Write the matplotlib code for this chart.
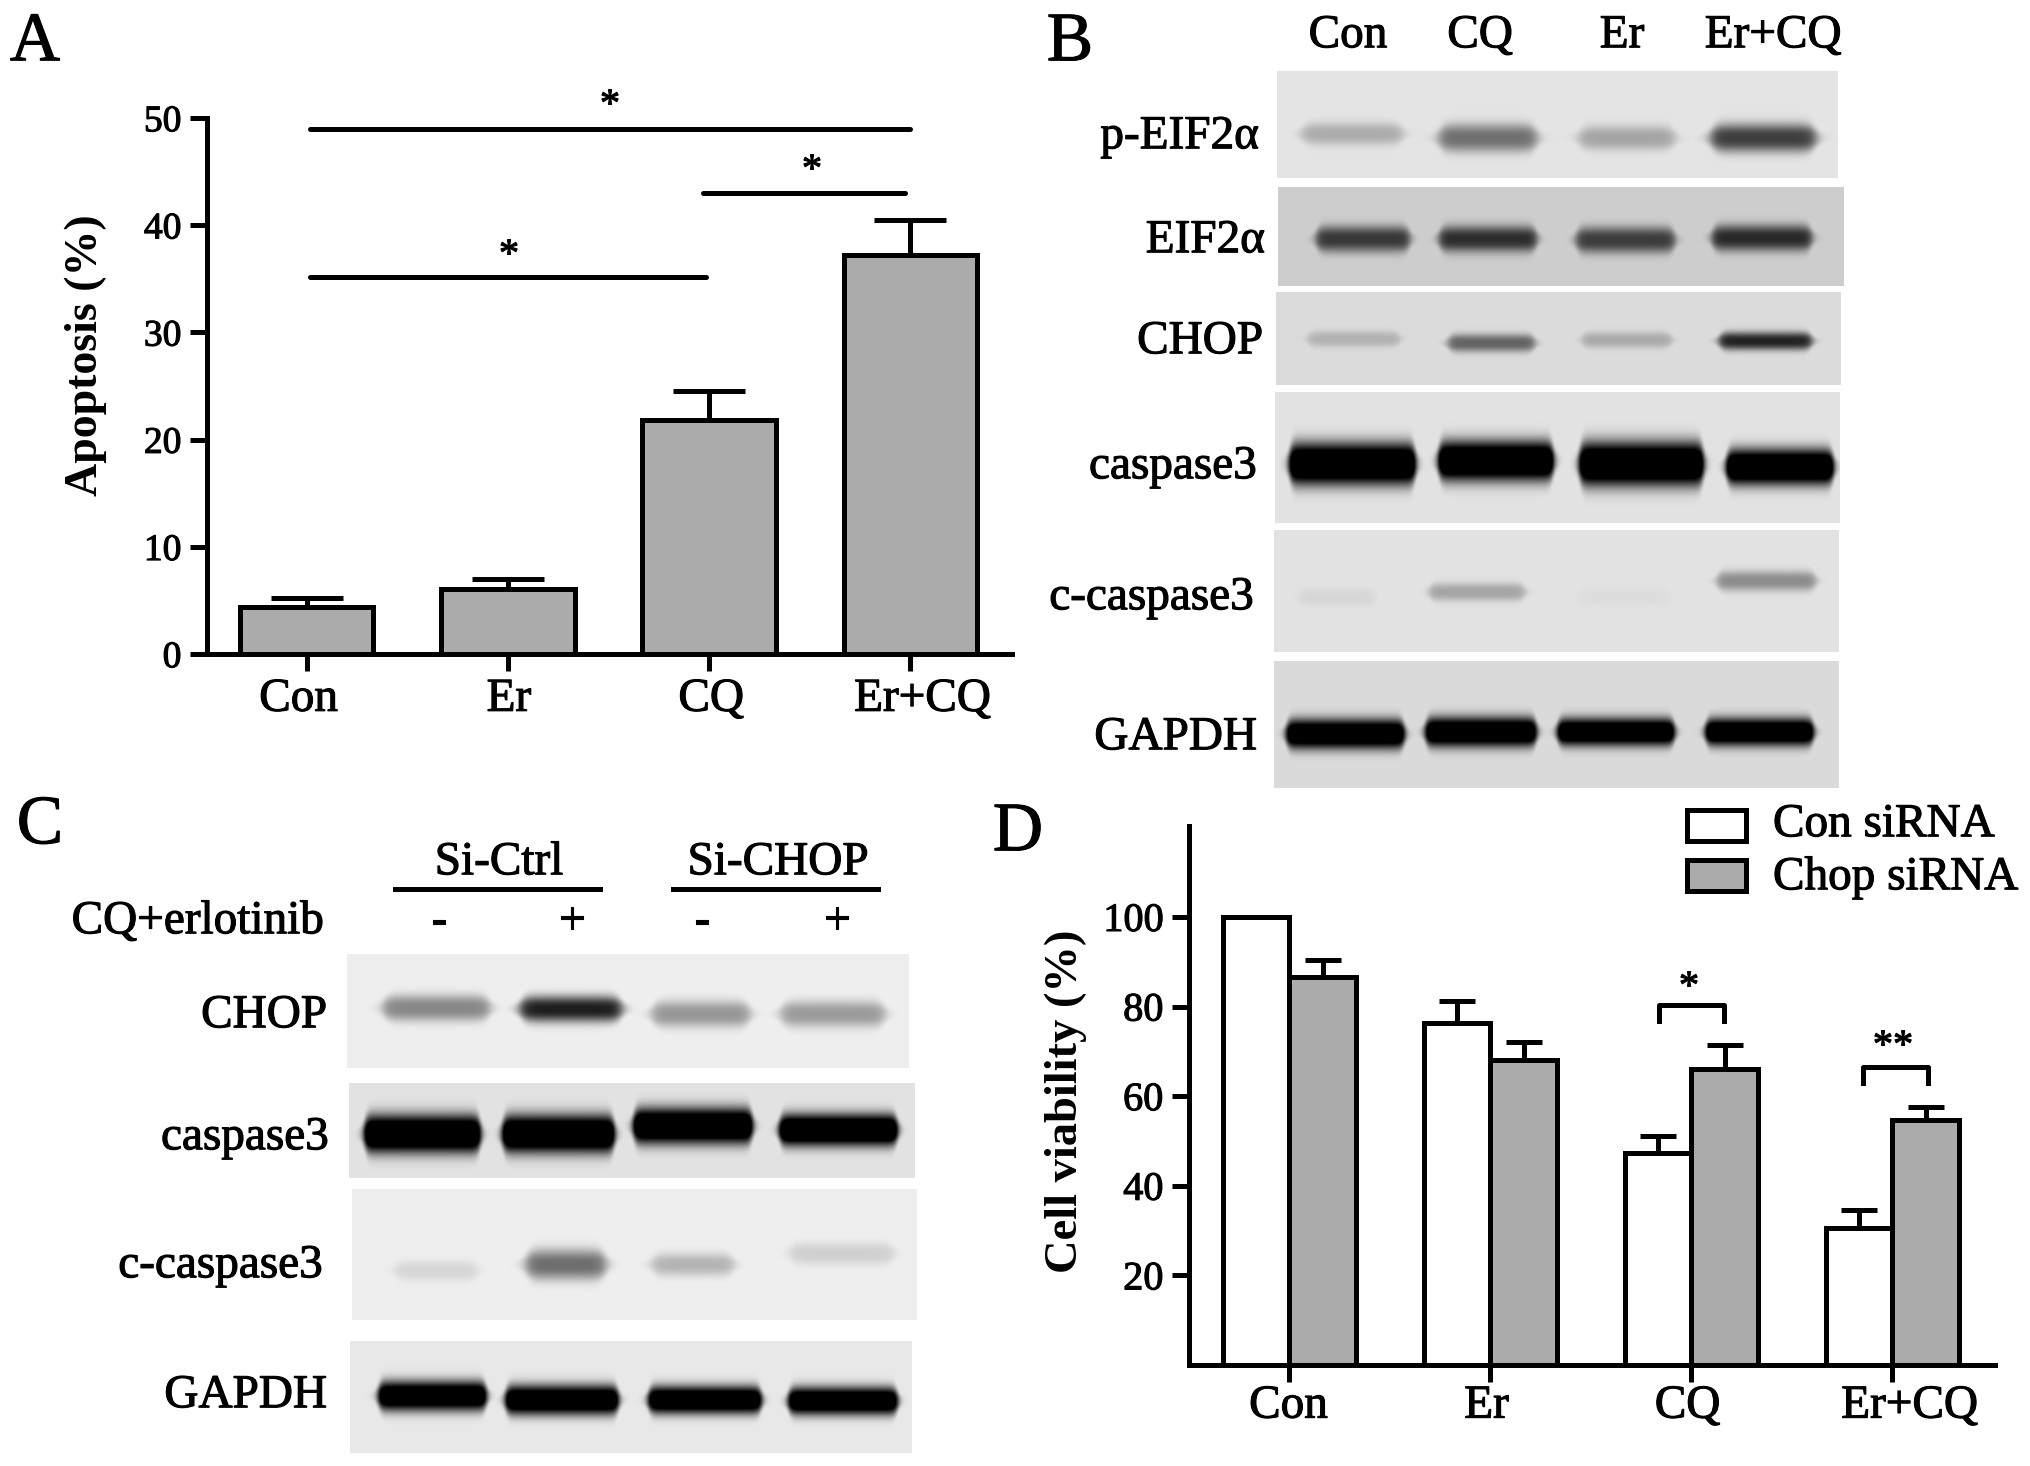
import numpy as np
import matplotlib
matplotlib.use("Agg")
import matplotlib.pyplot as plt
import matplotlib.patheffects as pe
from matplotlib.patches import Rectangle
from matplotlib.text import Text
from matplotlib.transforms import ScaledTranslation

plt.rcParams['font.family'] = ['Liberation Serif', 'DejaVu Serif']

W, H = 2031, 1466
DPI = 100
GREY = '#ababab'
LW = 3.6

# panel A
a_groups = ['Con', 'Er', 'CQ', 'Er+CQ']
a_values = [4.4, 6.1, 21.8, 37.2]
a_tops = [5.2, 7.0, 24.5, 40.5]

# panel D
d_groups = ['Con', 'Er', 'CQ', 'Er+CQ']
d_con = [100, 76.3, 47.3, 30.5]
d_con_top = [100, 81.3, 51, 34.5]
d_chop = [86.5, 68, 66, 54.7]
d_chop_top = [90.3, 72, 71.5, 57.5]

# blot band grey levels, one per lane (0 black, negative = saturated)
b_peif = [172, 112, 165, 62]
b_eif = [55, 45, 60, 40]
b_chop = [178, 100, 170, 35]
b_casp = [-90, -90, -90, -90]
b_ccasp = [214, 165, 220, 140]
b_gapdh = [-70, -70, -70, -70]
c_chop = [135, 30, 150, 155]
c_casp = [-90, -90, -90, -90]
c_ccasp = [214, 110, 180, 208]
c_gapdh = [-70, -70, -70, -70]

fig = plt.figure(figsize=(W / DPI, H / DPI), dpi=DPI, facecolor='white')


def px_axes(x0, y0, x1, y1):
    return fig.add_axes([x0 / W, 1 - y1 / H, (x1 - x0) / W, (y1 - y0) / H])


def style_axes(ax, fs, xpad):
    ax.patch.set_alpha(0)
    for s in ['top', 'right']:
        ax.spines[s].set_visible(False)
    for s in ['left', 'bottom']:
        ax.spines[s].set_linewidth(LW)
    ax.tick_params(width=LW, length=12.5, labelsize=fs, pad=6)
    ax.tick_params(axis='x', labelsize=34, pad=xpad)


def shift_labels(ax, shifts):
    for lab, dx in zip(ax.get_xticklabels(), shifts):
        lab.set_transform(lab.get_transform() + ScaledTranslation(dx / DPI, 0, fig.dpi_scale_trans))


def draw_blot(box, bg, spans, centres, heights, levels, soft=5.0):
    x0, y0, x1, y1 = box
    xx, yy = np.meshgrid(np.arange(x0, x1) + 0.5, np.arange(y0, y1) + 0.5)
    img = np.full(xx.shape, float(bg))
    for (a, b), yc, hh, lev in zip(spans, centres, heights, levels):
        sx = 0.5 * (np.tanh((xx - a) / soft) - np.tanh((xx - b) / soft))
        # bands get thinner towards the lane edges
        local = hh * (0.3 + 0.7 * sx)
        sy = np.exp(-np.abs((yy - yc) / local) ** 2.6)
        img = np.minimum(img, bg - (bg - lev) * sx * sy)
    ax = px_axes(x0, y0, x1, y1)
    ax.imshow(img, cmap='gray', vmin=0, vmax=255, aspect='auto', interpolation='bilinear')
    ax.axis('off')


# panel A bars
ax = px_axes(207, 118, 1012, 654)
xa = np.arange(len(a_groups))
ax.bar(xa, a_values, width=0.663, color=GREY, edgecolor='black', linewidth=LW, zorder=3)
ax.errorbar(xa, a_values, yerr=[np.zeros(4), np.array(a_tops) - np.array(a_values)], fmt='none',
            ecolor='black', elinewidth=LW, capsize=26, capthick=LW, zorder=2)
ax.set_xlim(-0.495, 3.505)
ax.set_ylim(0, 50)
ax.set_yticks([0, 10, 20, 30, 40, 50])
ax.set_xticks(xa)
ax.set_xticklabels(a_groups)
style_axes(ax, 27, 5)
shift_labels(ax, [-8, 1, 2, 12])

# panel D bars
ax = px_axes(1189, 826, 1995, 1365)
xd = np.arange(len(d_groups))
w = 0.333
ax.bar(xd - w / 2, d_con, width=w, color='white', edgecolor='black', linewidth=LW, zorder=3)
ax.bar(xd + w / 2, d_chop, width=w, color=GREY, edgecolor='black', linewidth=LW, zorder=3)
ax.errorbar(xd - w / 2, d_con, yerr=[np.zeros(4), np.array(d_con_top) - np.array(d_con)], fmt='none',
            ecolor='black', elinewidth=LW, capsize=13, capthick=LW, zorder=2)
ax.errorbar(xd + w / 2, d_chop, yerr=[np.zeros(4), np.array(d_chop_top) - np.array(d_chop)], fmt='none',
            ecolor='black', elinewidth=LW, capsize=13, capthick=LW, zorder=2)
ax.set_xlim(-0.5, 3.51)
ax.set_ylim(0, 120.3)
ax.set_yticks([20, 40, 60, 80, 100])
ax.set_xticks(xd)
ax.set_xticklabels(d_groups)
style_axes(ax, 29, 2)
shift_labels(ax, [-1, -4, -4, 17])

# panel B blots
draw_blot((1277, 71, 1838, 178), 228,
          [(1302, 1403), (1439, 1537), (1579, 1675), (1711, 1816)], [134, 138, 138, 138], [11, 14, 12, 14], b_peif, 7)
draw_blot((1278, 187, 1844, 286), 205,
          [(1316, 1410), (1439, 1537), (1576, 1675), (1712, 1812)], [239, 239, 240, 238], [13] * 4, b_eif, 5)
draw_blot((1276, 292, 1841, 385), 219,
          [(1308, 1400), (1448, 1535), (1582, 1672), (1719, 1812)], [339, 343, 340, 341], [8, 9, 8, 9], b_chop, 5)
draw_blot((1275, 392, 1840, 523), 226,
          [(1289, 1416), (1438, 1554), (1579, 1704), (1726, 1834)], [464, 461, 464, 467], [21, 20, 22, 18], b_casp, 4)
draw_blot((1274, 530, 1839, 652), 226,
          [(1299, 1375), (1429, 1525), (1579, 1669), (1717, 1816)], [597, 592, 597, 581], [9, 9, 9, 10], b_ccasp, 5)
draw_blot((1274, 661, 1839, 788), 218,
          [(1286, 1405), (1425, 1537), (1557, 1675), (1705, 1814)], [734, 732, 732, 732], [15, 15, 14, 14], b_gapdh, 4)

# panel C blots
draw_blot((347, 954, 909, 1068), 238,
          [(383, 490), (520, 622), (652, 750), (781, 885)], [1008, 1009, 1014, 1014], [13, 13, 13, 13], c_chop, 7)
draw_blot((349, 1083, 915, 1178), 226,
          [(364, 481), (502, 615), (633, 753), (779, 898)], [1134, 1134, 1126, 1130], [19, 19, 18, 16], c_casp, 4)
draw_blot((352, 1189, 917, 1320), 238,
          [(395, 478), (526, 606), (652, 734), (790, 894)], [1271, 1265, 1265, 1254], [10, 15, 11, 11], c_ccasp, 7)
draw_blot((350, 1341, 912, 1453), 232,
          [(378, 487), (505, 619), (648, 762), (788, 898)], [1396, 1400, 1400, 1401], [15, 15, 14, 14], c_gapdh, 4)

# overlay in pixel coordinates for the annotations
ov = fig.add_axes([0, 0, 1, 1])
ov.set_xlim(0, W)
ov.set_ylim(H, 0)
ov.axis('off')
ov.patch.set_alpha(0)


def txt(x, y, s, fs=34, ha='center', **kw):
    ov.text(x, y - 3, s, fontsize=fs, ha=ha, va='center_baseline', **kw)


def star(x, yc, s='*'):
    ov.text(x, yc + 18, s, fontsize=29, ha='center', va='baseline')


for x, y, s in [(35, 39, 'A'), (1070, 39, 'B'), (40, 822, 'C'), (1018, 829, 'D')]:
    txt(x, y, s, fs=50)

# significance lines in panel A
for x0, x1, y in [(310, 910, 129), (703, 905, 193), (310, 706, 277)]:
    ov.plot([x0, x1], [y, y], color='black', lw=LW, solid_capstyle='round')
star(610, 98)
star(812, 163)
star(509, 248)
ov.text(86, 355, 'Apoptosis (%)', fontsize=33, rotation=90, fontweight='bold', ha='center', va='center')

# panel B labels
for x, s in [(1348, 'Con'), (1480, 'CQ'), (1622, 'Er'), (1773, 'Er+CQ')]:
    txt(x, 34, s)
for x, y, s in [(1259, 135, 'p-EIF2α'), (1265, 239, 'EIF2α'), (1263, 340, 'CHOP'),
                (1257, 465, 'caspase3'), (1254, 596, 'c-caspase3'), (1257, 736, 'GAPDH')]:
    txt(x, y, s, ha='right')

# panel C labels
txt(499, 861, 'Si-Ctrl')
txt(778, 861, 'Si-CHOP')
ov.plot([395, 600], [889, 889], color='black', lw=LW)
ov.plot([673, 878], [889, 889], color='black', lw=LW)
txt(324, 920, 'CQ+erlotinib', ha='right')
for x, s in [(439, '-'), (572, '+'), (702, '-'), (837, '+')]:
    txt(x, 920, s)
for x, y, s in [(327, 1014, 'CHOP'), (329, 1136, 'caspase3'), (323, 1264, 'c-caspase3'), (327, 1394, 'GAPDH')]:
    txt(x, y, s, ha='right')

# panel D annotations
ov.text(1066, 1101, 'Cell viability (%)', fontsize=33.5, rotation=90, fontweight='bold', ha='center', va='center')
for x0, x1, yt, yb in [(1659, 1724, 1005, 1021), (1863, 1928, 1067, 1083)]:
    ov.plot([x0, x0, x1, x1], [yb, yt, yt, yb], color='black', lw=LW, solid_joinstyle='round')
star(1689, 980)
star(1893, 1039, '**')
ov.add_patch(Rectangle((1687, 810), 59, 31, fc='white', ec='black', lw=LW))
ov.add_patch(Rectangle((1687, 860), 59, 31, fc=GREY, ec='black', lw=LW))
txt(1773, 823, 'Con siRNA', ha='left')
txt(1773, 876, 'Chop siRNA', ha='left')

# the reference lettering is slightly heavier than the plain font
for t in fig.findobj(Text):
    if t.get_fontweight() != 'bold':
        t.set_path_effects([pe.withStroke(linewidth=0.8, foreground='black')])

fig.savefig('out.png', dpi=DPI, facecolor='white')
